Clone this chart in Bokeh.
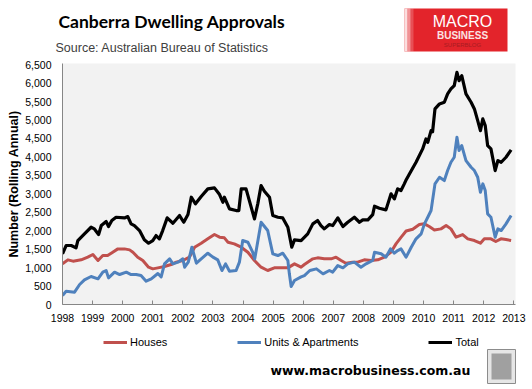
from bokeh.plotting import figure
from bokeh.layouts import column, row
from bokeh.models import (Legend, LegendItem, FixedTicker, NumeralTickFormatter, Range1d)
from bokeh.core.properties import value
from bokeh.embed import file_html
from bokeh.resources import INLINE

# ---------------- data (rolling annual dwelling approvals) -------------
YEAR_TICKS = list(range(1998, 2014))
YEAR_LABELS = [str(y) for y in YEAR_TICKS]
Y_TICKS = list(range(0, 7000, 500))

TOTAL_X = [1998.00, 1998.12, 1998.29, 1998.45, 1998.51, 1998.73, 1998.95, 1999.06, 1999.20, 1999.29,
           1999.45, 1999.53, 1999.64, 1999.78, 2000.06, 2000.17, 2000.28, 2000.39, 2000.56, 2000.72,
           2000.86, 2001.00, 2001.11, 2001.22, 2001.33, 2001.48, 2001.67, 2001.89, 2002.03, 2002.17,
           2002.28, 2002.42, 2002.61, 2002.83, 2003.05, 2003.22, 2003.33, 2003.38, 2003.55, 2003.77,
           2003.86, 2003.94, 2004.10, 2004.21, 2004.38, 2004.49, 2004.60, 2004.71, 2004.88, 2004.99,
           2005.16, 2005.32, 2005.49, 2005.62, 2005.71, 2005.93, 2006.15, 2006.32, 2006.48, 2006.59,
           2006.70, 2006.87, 2006.98, 2007.15, 2007.32, 2007.48, 2007.70, 2007.87, 2007.98, 2008.15,
           2008.31, 2008.37, 2008.53, 2008.75, 2008.92, 2009.03, 2009.14, 2009.25, 2009.36, 2009.41,
           2009.53, 2009.75, 2009.97, 2010.08, 2010.14, 2010.25, 2010.30, 2010.38, 2010.53, 2010.69,
           2010.80, 2010.91, 2011.02, 2011.11, 2011.18, 2011.27, 2011.41, 2011.58, 2011.69, 2011.80,
           2011.89, 2011.97, 2012.05, 2012.13, 2012.24, 2012.38, 2012.47, 2012.58, 2012.74, 2012.91]
TOTAL_Y = [1373, 1598, 1598, 1535, 1733, 1914, 2093, 2048, 1896, 2139,
           2248, 2112, 2275, 2364, 2346, 2383, 2185, 2139, 2004, 1752,
           1660, 1733, 1869, 1779, 2004, 2348, 2202, 2410, 2229, 2437,
           2907, 2727, 2925, 3133, 3160, 2979, 2771, 2907, 2592, 2546,
           2546, 3133, 3133, 2816, 2321, 2727, 3223, 3069, 2907, 2410,
           2364, 2346, 2093, 1552, 1752, 1733, 1914, 2185, 2275, 2139,
           2049, 2166, 2139, 2348, 2112, 2229, 2364, 2229, 2293, 2293,
           2437, 2663, 2609, 2564, 2998, 2862, 3133, 3088, 3269, 3358,
           3539, 3854, 4216, 4487, 4397, 4712, 4680, 5299, 5435, 5480,
           5706, 5841, 5931, 6291, 6066, 6201, 5706, 5480, 5299, 4983,
           4712, 5028, 4847, 4306, 4216, 3629, 3900, 3854, 3990, 4189]

HOUSES_X = [1998.00, 1998.18, 1998.35, 1998.62, 1998.84, 1999.01, 1999.18, 1999.34, 1999.50, 1999.67,
            1999.84, 2000.06, 2000.23, 2000.34, 2000.50, 2000.67, 2000.86, 2001.00, 2001.17, 2001.39,
            2001.61, 2001.78, 2002.00, 2002.22, 2002.39, 2002.61, 2002.83, 2003.05, 2003.22, 2003.38,
            2003.50, 2003.71, 2003.94, 2004.16, 2004.38, 2004.60, 2004.82, 2005.04, 2005.26, 2005.49,
            2005.71, 2005.93, 2006.04, 2006.32, 2006.48, 2006.70, 2006.93, 2007.09, 2007.26, 2007.42,
            2007.64, 2007.81, 2008.03, 2008.26, 2008.48, 2008.70, 2008.92, 2009.09, 2009.25, 2009.42,
            2009.64, 2009.86, 2010.03, 2010.19, 2010.36, 2010.58, 2010.75, 2010.91, 2011.08, 2011.30,
            2011.47, 2011.69, 2011.89, 2012.02, 2012.24, 2012.40, 2012.57, 2012.74, 2012.91]
HOUSES_Y = [1101, 1210, 1174, 1210, 1282, 1354, 1192, 1327, 1327, 1417,
            1507, 1507, 1480, 1417, 1282, 1192, 1011, 966, 993, 1029,
            1083, 1147, 1192, 1282, 1552, 1660, 1779, 1896, 1824, 1806,
            1688, 1643, 1552, 1417, 1192, 1011, 921, 993, 993, 993,
            1101, 1011, 1083, 1237, 1264, 1237, 1237, 1282, 1192, 1119,
            1147, 1147, 1210, 1192, 1210, 1282, 1420, 1650, 1820, 1990,
            2040, 2166, 2185, 2112, 2021, 2049, 2139, 2049, 1824, 1896,
            1779, 1733, 1660, 1779, 1779, 1706, 1779, 1760, 1733]

UNITS_X = [1998.00, 1998.12, 1998.40, 1998.57, 1998.73, 1998.95, 1999.18, 1999.34, 1999.45, 1999.53,
           1999.73, 1999.90, 2000.12, 2000.28, 2000.45, 2000.61, 2000.78, 2000.95, 2001.17, 2001.28,
           2001.39, 2001.56, 2001.67, 2001.84, 2002.00, 2002.06, 2002.18, 2002.30, 2002.45, 2002.61,
           2002.83, 2003.00, 2003.16, 2003.30, 2003.42, 2003.55, 2003.77, 2003.88, 2003.99, 2004.16,
           2004.32, 2004.39, 2004.60, 2004.82, 2004.99, 2005.16, 2005.32, 2005.49, 2005.54, 2005.60,
           2005.71, 2005.93, 2006.04, 2006.22, 2006.44, 2006.66, 2006.87, 2006.98, 2007.15, 2007.32,
           2007.48, 2007.70, 2007.92, 2008.09, 2008.31, 2008.37, 2008.59, 2008.75, 2008.90, 2009.03,
           2009.14, 2009.25, 2009.42, 2009.59, 2009.75, 2009.92, 2010.03, 2010.14, 2010.25, 2010.38,
           2010.53, 2010.69, 2010.80, 2010.91, 2011.02, 2011.11, 2011.18, 2011.27, 2011.41, 2011.58,
           2011.69, 2011.80, 2011.89, 2011.97, 2012.05, 2012.13, 2012.24, 2012.38, 2012.47, 2012.58,
           2012.74, 2012.91]
UNITS_Y = [244, 361, 334, 542, 668, 758, 695, 876, 921, 722,
           876, 812, 876, 812, 812, 785, 632, 695, 839, 749,
           1101, 1237, 1101, 1147, 1237, 1011, 1150, 1552, 1119, 1237,
           1390, 1282, 1210, 921, 1101, 903, 921, 1147, 1733, 1688,
           1417, 1237, 2229, 2004, 1373, 1327, 1390, 1192, 831, 487,
           650, 749, 785, 921, 966, 831, 921, 876, 1056, 993,
           1101, 1147, 1011, 1101, 1192, 1417, 1373, 1282, 1507, 1390,
           1462, 1507, 1282, 1552, 1779, 1914, 2185, 2364, 2546, 3269,
           3448, 3358, 3629, 3854, 3990, 4531, 4171, 4306, 3900, 3719,
           3629, 3448, 3042, 3269, 3088, 2455, 2364, 1824, 2049, 2004,
           2185, 2410]

SERIES_NAMES = ["Houses", "Units & Apartments", "Total"]
SERIES_COLORS = ["#C0504D", "#4F81BD", "#000000"]
TITLE = "Canberra Dwelling Approvals"
SUBTITLE = "Source: Australian Bureau of Statistics"
Y_TITLE = "Number (Rolling Annual)"
FOOTER = "www.macrobusiness.com.au"

W = 532
TICK_FONT = "Liberation Sans"
NAN = float("nan")


def blank(height):
    f = figure(width=W, height=height, output_backend="svg", toolbar_location=None,
               x_range=Range1d(0, W), y_range=Range1d(height, 0),
               min_border=0, x_axis_type=None, y_axis_type=None)
    f.outline_line_color = None
    f.grid.visible = False
    f.background_fill_color = "white"
    f.border_fill_color = "white"
    return f


# ---------------- header ----------------
HEAD_H = 55
head = blank(HEAD_H)
head.text(x=[58], y=[21], text=[TITLE], text_font=value("Lato"), text_font_style="bold",
          text_font_size="17.5px", text_baseline="middle", text_color="#000000")
head.text(x=[55], y=[47], text=[SUBTITLE], text_font=value(TICK_FONT),
          text_font_size="12.5px", text_baseline="middle", text_color="#404040")
# logo
head.quad(left=[404], right=[507], top=[8], bottom=[51], fill_color="#E3242B", line_color=None)
head.quad(left=[404], right=[407], top=[8], bottom=[51], fill_color="#FFFFFF", fill_alpha=0.85, line_color=None)
head.quad(left=[407], right=[410], top=[8], bottom=[51], fill_color="#FFFFFF", fill_alpha=0.5, line_color=None)
head.quad(left=[410], right=[413], top=[8], bottom=[51], fill_color="#FFFFFF", fill_alpha=0.2, line_color=None)
head.text(x=[462], y=[21], text=["MACRO"], text_font=value(TICK_FONT), text_font_size="16px",
          text_color="#FFFFFF", text_align="center", text_baseline="middle")
head.text(x=[462], y=[35], text=["BUSINESS"], text_font=value(TICK_FONT), text_font_style="bold",
          text_font_size="10px", text_color="#FBE3E3", text_align="center", text_baseline="middle")
head.text(x=[462], y=[44], text=["SUPERBLOG"], text_font=value(TICK_FONT), text_font_size="6px",
          text_color="#A81C22", text_align="center", text_baseline="middle")

# ---------------- main chart ----------------
p = figure(width=W, height=274, output_backend="svg", toolbar_location=None,
           x_range=Range1d(1998.0, 2013.056), y_range=Range1d(0, 6530),
           min_border_left=62, min_border_right=17, min_border_top=8, min_border_bottom=25)
p.background_fill_color = "#F2F2F2"
p.border_fill_color = "white"
p.outline_line_color = None
p.grid.visible = False

p.xaxis.ticker = FixedTicker(ticks=YEAR_TICKS)
p.xaxis.major_label_overrides = {t: lab for t, lab in zip(YEAR_TICKS, YEAR_LABELS)}
p.xaxis.major_tick_in = 4
p.xaxis.major_tick_out = 0
p.xaxis.minor_tick_line_color = None
p.xaxis.major_label_standoff = 9
p.yaxis.ticker = FixedTicker(ticks=Y_TICKS)
p.yaxis.formatter = NumeralTickFormatter(format="0,0")
p.yaxis.major_tick_in = 0
p.yaxis.major_tick_out = 0
p.yaxis.minor_tick_line_color = None
p.yaxis.major_label_standoff = 11
p.yaxis.axis_label = Y_TITLE
p.yaxis.axis_label_standoff = 1
p.yaxis.axis_label_text_font = TICK_FONT
p.yaxis.axis_label_text_font_style = "bold"
p.yaxis.axis_label_text_font_size = "12.5px"
p.yaxis.axis_label_text_color = "#000000"
for ax in (p.xaxis, p.yaxis):
    ax.axis_line_color = "#868686"
    ax.major_tick_line_color = "#868686"
    ax.major_label_text_font = TICK_FONT
    ax.major_label_text_font_size = "10.5px"
    ax.major_label_text_color = "#000000"

p.line(HOUSES_X, HOUSES_Y, line_color=SERIES_COLORS[0], line_width=3, line_join="round")
p.line(UNITS_X, UNITS_Y, line_color=SERIES_COLORS[1], line_width=3, line_join="round")
p.line(TOTAL_X, TOTAL_Y, line_color=SERIES_COLORS[2], line_width=3.2, line_join="round")

# ---------------- footer: legend, url, wolf badge ----------------
FOOT_H = 60
foot = blank(FOOT_H)
# legend keys (single NaN point: nothing is drawn in the frame)
proxies = [foot.line([NAN], [NAN], line_color=c, line_width=3) for c in SERIES_COLORS]
legend = Legend(items=[LegendItem(label=n, renderers=[r]) for n, r in zip(SERIES_NAMES, proxies)],
                orientation="horizontal", location=(103, FOOT_H - 21), spacing=70,
                glyph_width=24, glyph_height=16, label_height=16, label_standoff=3,
                padding=0, margin=0, border_line_color=None, background_fill_alpha=0,
                label_text_font=TICK_FONT, label_text_font_size="11px",
                label_text_color="#000000")
foot.add_layout(legend, "center")
foot.text(x=[270], y=[41], text=[FOOTER], text_font=value("DejaVu Sans"), text_font_style="bold",
          text_font_size="12.5px", text_color="#000000", text_baseline="middle")
foot.quad(left=[487], right=[515], top=[20], bottom=[54], fill_color="#E6E6E6",
          line_color="#8C8C8C", line_width=1)
foot.quad(left=[491], right=[511], top=[24], bottom=[50], fill_color="#A0A0A0", line_color=None)

layout = column(row(head), p, row(foot), spacing=0)
open("out.html", "w").write(file_html(layout, INLINE))
